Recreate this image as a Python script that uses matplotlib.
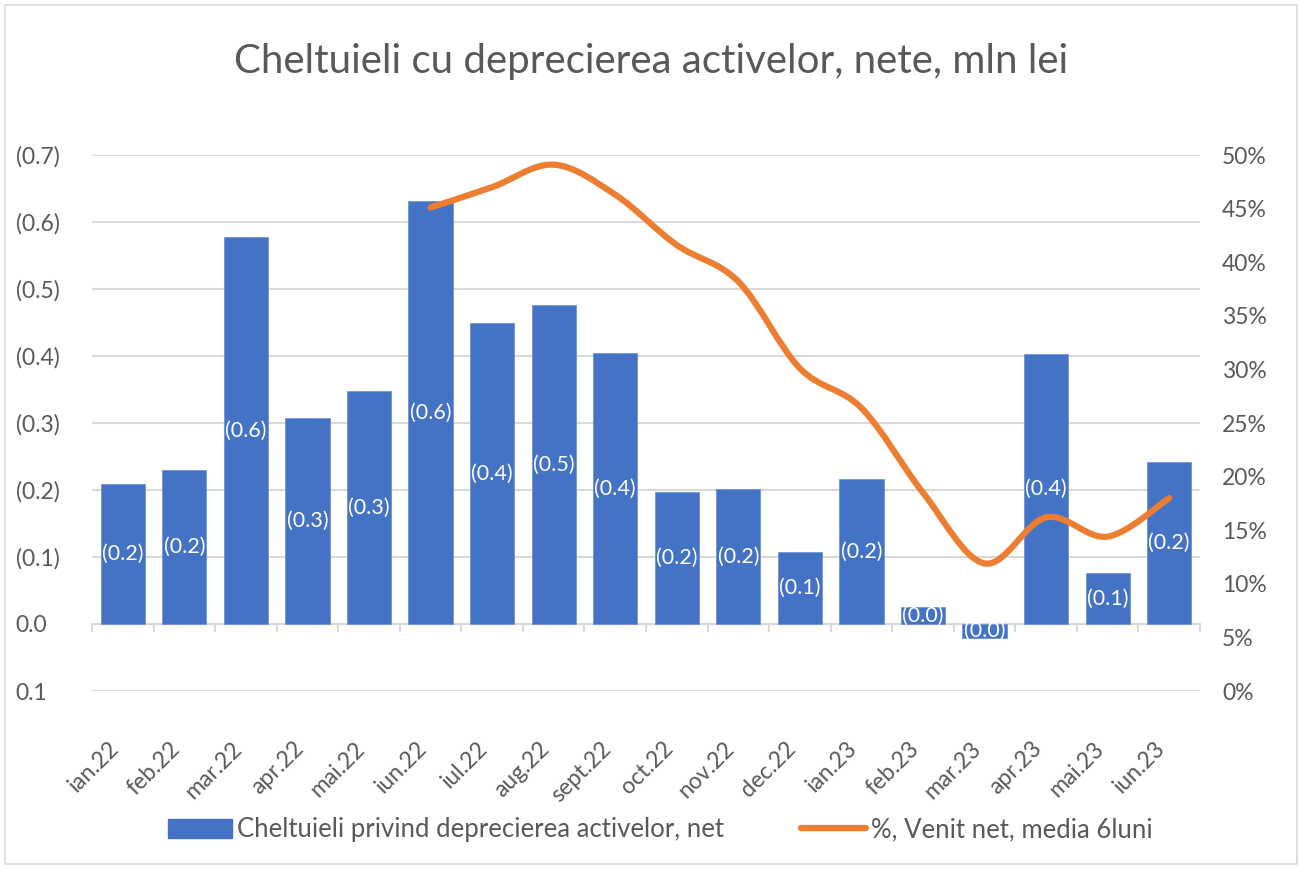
import matplotlib
matplotlib.use("Agg")
import matplotlib.pyplot as plt
from matplotlib.path import Path
from matplotlib.patches import PathPatch, Rectangle, Patch
from matplotlib.lines import Line2D
from matplotlib.ticker import FixedLocator, FuncFormatter

plt.rcParams['font.family'] = ['Lato', 'DejaVu Sans']

categories = ["ian.22", "feb.22", "mar.22", "apr.22", "mai.22", "iun.22", "iul.22", "aug.22",
              "sept.22", "oct.22", "nov.22", "dec.22", "ian.23", "feb.23", "mar.23", "apr.23",
              "mai.23", "iun.23"]
expenses = [0.209, 0.230, 0.578, 0.307, 0.348, 0.631, 0.449, 0.476, 0.404, 0.197, 0.201,
            0.107, 0.216, 0.025, -0.021, 0.403, 0.076, 0.242]
pct_start = 5
pct_values = [0.451, 0.470, 0.491, 0.463, 0.416, 0.382, 0.301, 0.264, 0.185, 0.119, 0.162,
              0.144, 0.180]

bar_label = "Cheltuieli privind deprecierea activelor, net"
line_label = "%, Venit net, media 6luni"
title = "Cheltuieli cu deprecierea activelor, nete, mln lei"

BLUE = "#4472C4"
ORANGE = "#ED7D31"
GRID = "#D9D9D9"
TXT = "#595959"

fig = plt.figure(figsize=(13.02, 8.69), dpi=100)
fig.patches.append(Rectangle((0.004, 0.006), 0.992, 0.988, transform=fig.transFigure,
                             fill=False, edgecolor=GRID, linewidth=1.2))
ax = fig.add_axes([92/1302, 1-691/869, (1200-92)/1302, (691-155)/869])
ax2 = ax.twinx()

x = list(range(len(categories)))
ax.bar(x, expenses, width=0.72, color=BLUE, edgecolor="#6f93d6", linewidth=0.6, zorder=3)

for xi, v in zip(x, expenses):
    ax.text(xi, v / 2, "(%.1f)" % abs(v), color="white", ha="center", va="center",
            fontsize=15.5, zorder=4)

ax.set_xlim(-0.5, len(categories) - 0.5)
ax.set_ylim(-0.1, 0.7)
yt = [-0.1, 0.0, 0.1, 0.2, 0.3, 0.4, 0.5, 0.6, 0.7]
ax.yaxis.set_major_locator(FixedLocator(yt))
def yfmt(v, p):
    if abs(v) < 1e-9:
        return "0.0"
    if v < 0:
        return "%.1f" % abs(v)
    return "(%.1f)" % v
ax.yaxis.set_major_formatter(FuncFormatter(yfmt))
ax.grid(axis="y", color=GRID, linewidth=1.5, zorder=0)
ax.set_axisbelow(True)
for s in ["top", "right", "left"]:
    ax.spines[s].set_visible(False)
ax.spines["bottom"].set_position(("data", 0))
ax.spines["bottom"].set_color(GRID)
ax.spines["bottom"].set_linewidth(1.5)
ax.spines["bottom"].set_zorder(2)
ax.set_xticks(x)
ax.set_xticklabels(categories, rotation=45, ha="right", va="top")
ax.set_xticks([i - 0.5 for i in range(len(categories) + 1)], minor=True)
ax.tick_params(axis="x", which="major", length=0, pad=82, labelsize=16.5, labelcolor=TXT)
ax.tick_params(axis="x", which="minor", length=6, width=1.5, color=GRID, direction="out")
ax.tick_params(axis="y", length=0, pad=55, labelsize=16.5, labelcolor=TXT)
for lbl in ax.get_yticklabels():
    lbl.set_horizontalalignment("left")

# right axis
ax2.set_ylim(0, 0.5)
ax2.yaxis.set_major_locator(FixedLocator([i * 0.05 for i in range(11)]))
ax2.yaxis.set_major_formatter(FuncFormatter(lambda v, p: "%d%%" % round(v * 100)))
ax2.tick_params(axis="y", length=0, pad=16, labelsize=16.5, labelcolor=TXT)
for s in ["top", "right", "left", "bottom"]:
    ax2.spines[s].set_visible(False)

# smoothed line (Bezier through the data points)
xs = list(range(pct_start, pct_start + len(pct_values)))
pts = list(zip(xs, pct_values))
verts = [pts[0]]
codes = [Path.MOVETO]
n = len(pts)
for i in range(n - 1):
    p0 = pts[i - 1] if i > 0 else pts[i]
    p1 = pts[i]
    p2 = pts[i + 1]
    p3 = pts[i + 2] if i + 2 < n else pts[i + 1]
    c1 = (p1[0] + (p2[0] - p0[0]) / 6, p1[1] + (p2[1] - p0[1]) / 6)
    c2 = (p2[0] - (p3[0] - p1[0]) / 6, p2[1] - (p3[1] - p1[1]) / 6)
    verts += [c1, c2, p2]
    codes += [Path.CURVE4, Path.CURVE4, Path.CURVE4]
ax2.add_patch(PathPatch(Path(verts, codes), fill=False, edgecolor=ORANGE,
                        linewidth=4.5, capstyle="round", joinstyle="round", zorder=5))

fig.text(0.5, 1 - 62/869, title, ha="center", va="center", fontsize=29, color=TXT)

handles = [Patch(facecolor=BLUE, edgecolor=BLUE),
           Line2D([0], [0], color=ORANGE, linewidth=4.5, solid_capstyle="round")]
fig.legend(handles, [bar_label, line_label], loc="center", bbox_to_anchor=(0.507, 1 - 830/869),
           ncol=2, frameon=False, fontsize=18.5, labelcolor=TXT, handlelength=2.5,
           handleheight=0.8, columnspacing=3.0, handletextpad=0.2)

fig.savefig("out.png", dpi=100)
